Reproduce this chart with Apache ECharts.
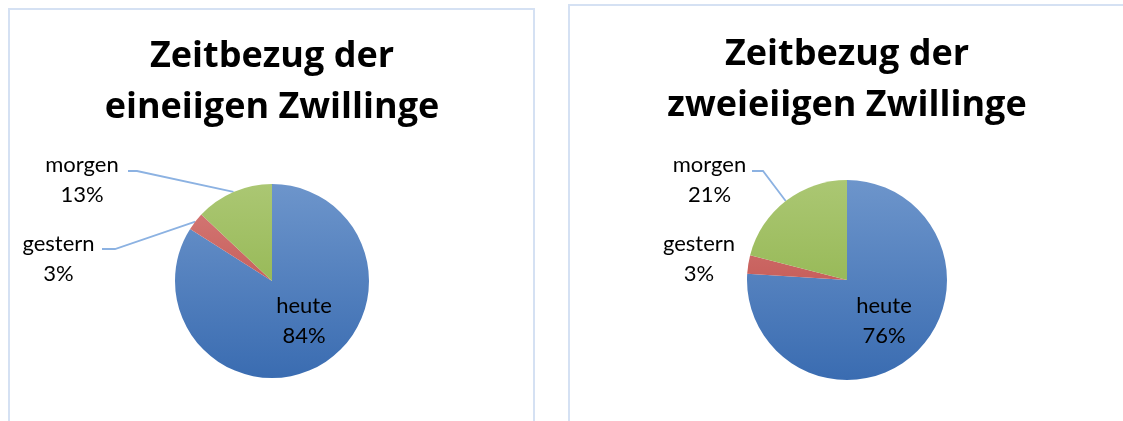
<!DOCTYPE html>
<html>
<head>
<meta charset="utf-8">
<script src="https://cdn.jsdelivr.net/npm/echarts@6/dist/echarts.min.js"></script>
<style>
  html, body { margin: 0; padding: 0; background: #ffffff; }
  #chart { width: 1123px; height: 421px; }
</style>
</head>
<body>
<div id="chart"></div>
<script>
// ---- data ----
const categories = ['heute', 'gestern', 'morgen'];
const valuesEineiig = [84, 3, 13];
const valuesZweieiig = [76, 3, 21];
const titleEineiig = 'Zeitbezug der\neineiigen Zwillinge';
const titleZweieiig = 'Zeitbezug der\nzweieiigen Zwillinge';

// ---- layout / style ----
const FONT = 'Lato';
const TITLE_FONT = 'Open Sans';
const pies = [
  { cx: 272, cy: 281, r: 97, titleTop: 31 },
  { cx: 847, cy: 280, r: 100, titleTop: 29 }
];
// label placements (pixel layout of text blocks and leader elbows)
const labelCfg = [
  {
    heute:   { x: 304, y: 321 },
    gestern: { x: 58.5, y: 258.5, line: [[115, 249], [102, 249]] },
    morgen:  { x: 82, y: 180, line: [[137, 171], [128, 171]] }
  },
  {
    heute:   { x: 884, y: 321 },
    gestern: { x: 699, y: 258.5 },
    morgen:  { x: 709.5, y: 180, line: [[763, 171], [752, 171]] }
  }
];
const colorPairs = {
  heute:   ['#6d95cb', '#3a6cb1'],
  gestern: ['#d67e7b', '#b9413d'],
  morgen:  ['#abc773', '#86ad3f']
};

function grad(p, pair) {
  return {
    type: 'linear', x: 0, y: p.cy - p.r, x2: 0, y2: p.cy + p.r, global: true,
    colorStops: [{ offset: 0, color: pair[0] }, { offset: 1, color: pair[1] }]
  };
}

function buildData(values, idx) {
  const p = pies[idx];
  return categories.map(function (name, i) {
    const cfg = labelCfg[idx][name];
    const inside = name === 'heute';
    return {
      name: name,
      value: values[i],
      itemStyle: { color: grad(p, colorPairs[name]) },
      label: { position: inside ? 'inside' : 'outside' },
      labelLine: { show: !inside && !!(cfg && cfg.line) }
    };
  });
}

function makeLayout(idx, values) {
  const p = pies[idx];
  const total = values.reduce(function (a, b) { return a + b; }, 0);
  return function (params) {
    const name = categories[params.dataIndex];
    const c = labelCfg[idx][name];
    if (!c) return {};
    const out = { x: c.x, y: c.y, align: 'center', verticalAlign: 'middle' };
    if (c.line) {
      let a;
      if (params.labelLinePoints && params.labelLinePoints.length) {
        a = params.labelLinePoints[0];
      } else {
        let cum = 0;
        for (let k = 0; k < params.dataIndex; k++) cum += values[k];
        const mid = (cum + values[params.dataIndex] / 2) / total * Math.PI * 2;
        a = [p.cx + p.r * Math.sin(mid), p.cy - p.r * Math.cos(mid)];
      }
      out.labelLinePoints = [[a[0], a[1]], c.line[0], c.line[1]];
    }
    return out;
  };
}

function seriesFor(values, idx) {
  const p = pies[idx];
  return {
    type: 'pie',
    center: [p.cx, p.cy],
    radius: [0, p.r],
    startAngle: 90,
    clockwise: true,
    avoidLabelOverlap: false,
    silent: true,
    data: buildData(values, idx),
    itemStyle: { borderWidth: 0 },
    label: {
      show: true,
      color: '#000000',
      fontFamily: FONT,
      fontSize: 22,
      lineHeight: 30,
      formatter: function (prm) { return prm.name + '\n' + Math.round(prm.percent) + '%'; }
    },
    labelLine: {
      length: 15, length2: 10, smooth: false,
      lineStyle: { color: '#8cb2e2', width: 1.8 }
    },
    labelLayout: makeLayout(idx, values),
    emphasis: { disabled: true }
  };
}

const chart = echarts.init(document.getElementById('chart'), null, { renderer: 'canvas' });
chart.setOption({
  animation: false,
  backgroundColor: '#ffffff',
  title: [
    {
      text: titleEineiig, left: pies[0].cx, top: pies[0].titleTop, textAlign: 'center', padding: 0,
      textStyle: { fontFamily: TITLE_FONT, fontSize: 36, fontWeight: 'bold', color: '#000', lineHeight: 51 }
    },
    {
      text: titleZweieiig, left: pies[1].cx, top: pies[1].titleTop, textAlign: 'center', padding: 0,
      textStyle: { fontFamily: TITLE_FONT, fontSize: 36, fontWeight: 'bold', color: '#000', lineHeight: 51 }
    }
  ],
  graphic: [
    { type: 'rect', silent: true, z: -1, shape: { x: 9, y: 9, width: 525, height: 500 },
      style: { fill: 'none', stroke: '#d5e1f3', lineWidth: 2 } },
    { type: 'rect', silent: true, z: -1, shape: { x: 569, y: 5, width: 600, height: 500 },
      style: { fill: 'none', stroke: '#d5e1f3', lineWidth: 2 } }
  ],
  series: [seriesFor(valuesEineiig, 0), seriesFor(valuesZweieiig, 1)]
});
</script>
</body>
</html>
